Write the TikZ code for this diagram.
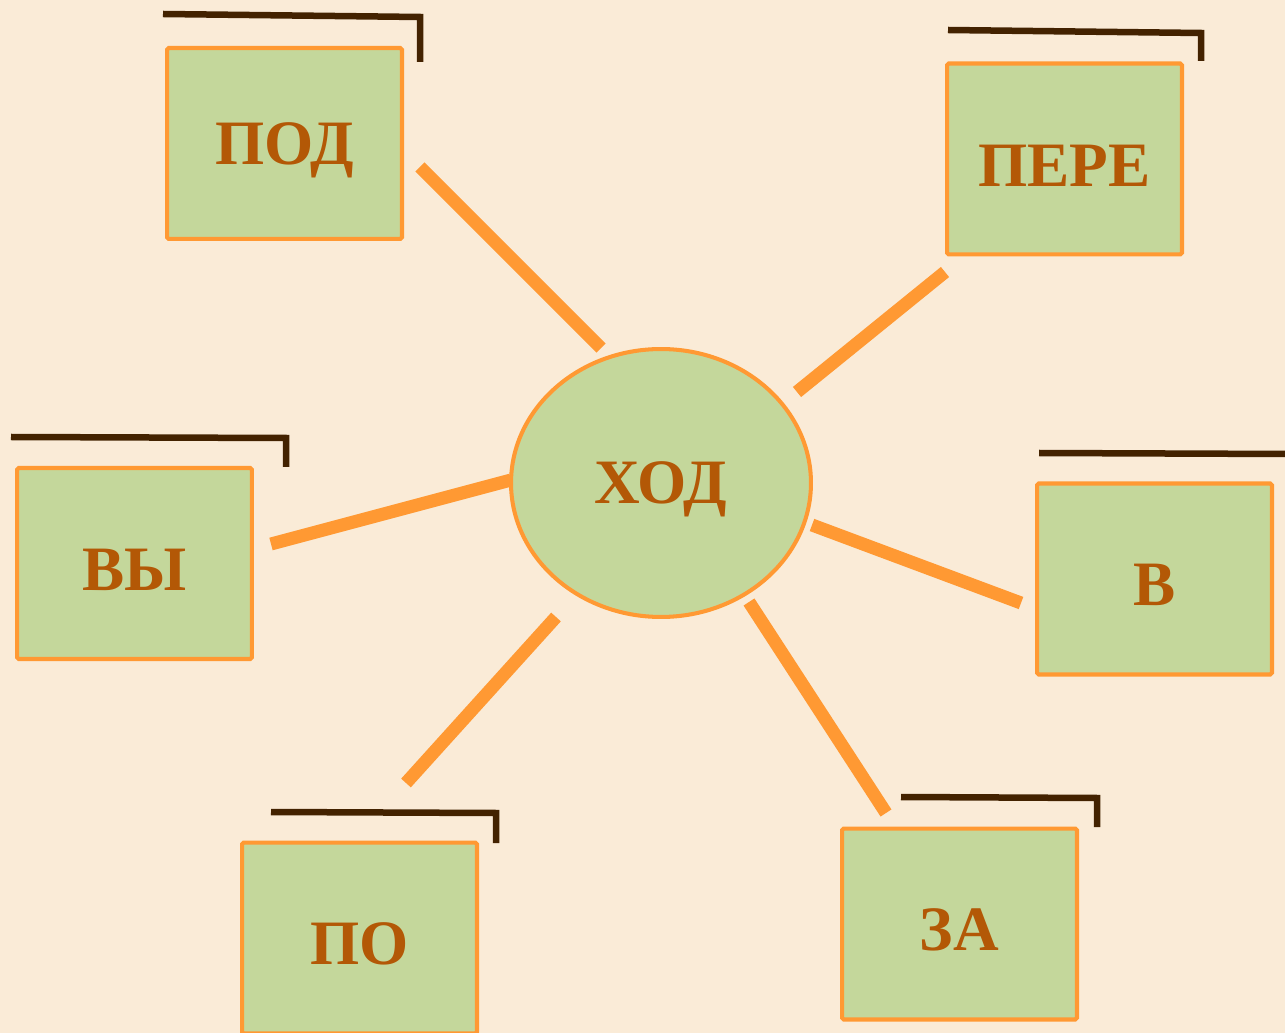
\documentclass[tikz,border=0pt]{standalone}
\usepackage{fontspec}
\setmainfont{Liberation Serif}
\usetikzlibrary{shapes.geometric}
\definecolor{bg}{HTML}{FAEBD7}
\definecolor{boxfill}{HTML}{C4D79B}
\definecolor{boxline}{HTML}{FF9933}
\definecolor{txt}{HTML}{B35806}
\definecolor{brk}{HTML}{432200}
\newcommand{\lowered}[1]{\raisebox{-3.6pt}[\height][\depth]{#1}}
\tikzset{
  wordbox/.style={draw=boxline, fill=boxfill, line width=2.3pt, rounded corners=1pt,
    minimum width=4.7cm, minimum height=3.82cm, inner sep=0pt,
    text=txt, font=\fontsize{36}{40}\selectfont\bfseries},
  hub/.style={ellipse, draw=boxline, fill=boxfill, line width=2.3pt,
    minimum width=6.0cm, minimum height=5.36cm, inner sep=0pt,
    text=txt, font=\fontsize{36}{40}\selectfont\bfseries},
  spoke/.style={draw=boxline, line width=7.4pt},
  bracket/.style={draw=brk, line width=3.7pt}
}
\begin{document}
\begin{tikzpicture}[x=0.02cm, y=-0.02cm]
\fill[bg] (0,0) rectangle (1285,1033);
\useasboundingbox (0,0) rectangle (1285,1033);
\clip (0,0) rectangle (1285,1033);
% brackets
\coordinate (b1a) at (163,14); \coordinate (b1b) at (420,17); \coordinate (b1c) at (420,62);
\draw[bracket] (b1a) -- (b1b) -- (b1c);
\coordinate (b2a) at (948,30); \coordinate (b2b) at (1201,33); \coordinate (b2c) at (1201,61);
\draw[bracket] (b2a) -- (b2b) -- (b2c);
\coordinate (b3a) at (11,437); \coordinate (b3b) at (286,438); \coordinate (b3c) at (286,467);
\draw[bracket] (b3a) -- (b3b) -- (b3c);
\coordinate (b4a) at (1039,453); \coordinate (b4b) at (1290,454);
\draw[bracket] (b4a) -- (b4b);
\coordinate (b5a) at (271,812); \coordinate (b5b) at (496,813); \coordinate (b5c) at (496,843);
\draw[bracket] (b5a) -- (b5b) -- (b5c);
\coordinate (b6a) at (901,797); \coordinate (b6b) at (1097,798); \coordinate (b6c) at (1097,827);
\draw[bracket] (b6a) -- (b6b) -- (b6c);
% nodes
\node[hub] (hod) at (661,483) {\lowered{ХОД}};
\node[wordbox] (pod) at (284.5,143.5) {\lowered{ПОД}};
\node[wordbox] (pere) at (1064.5,159) {\lowered{ПЕРЕ}};
\node[wordbox] (vy) at (134.5,563.5) {\lowered{ВЫ}};
\node[wordbox] (v) at (1154.5,579) {\lowered{В}};
\node[wordbox] (po) at (359.5,938) {\lowered{ПО}};
\node[wordbox] (za) at (959.5,924) {\lowered{ЗА}};
% spokes
\coordinate (s1a) at (420,167); \coordinate (s1b) at (601,348);
\draw[spoke] (s1a) -- (s1b);
\coordinate (s2a) at (945,272); \coordinate (s2b) at (797,392);
\draw[spoke] (s2a) -- (s2b);
\coordinate (s3a) at (271,544); \coordinate (s3b) at (511,480);
\draw[spoke] (s3a) -- (s3b);
\coordinate (s4a) at (812,525); \coordinate (s4b) at (1021,603);
\draw[spoke] (s4a) -- (s4b);
\coordinate (s5a) at (406,783); \coordinate (s5b) at (556,617);
\draw[spoke] (s5a) -- (s5b);
\coordinate (s6a) at (749,602); \coordinate (s6b) at (886,813);
\draw[spoke] (s6a) -- (s6b);
\end{tikzpicture}
\end{document}
